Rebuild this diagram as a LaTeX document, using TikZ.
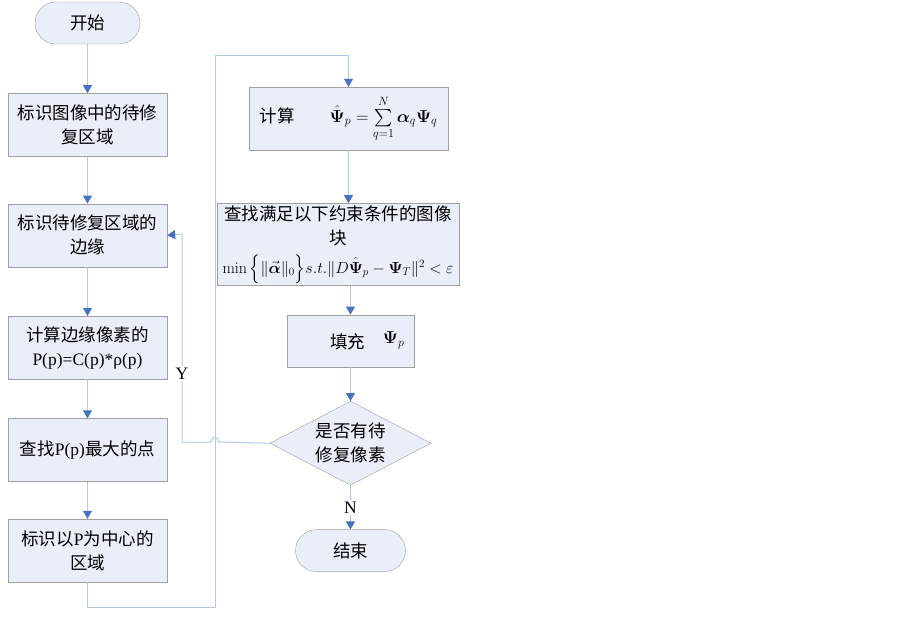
\documentclass[tikz,border=0pt]{standalone}
\usepackage{amsmath}
\usepackage[no-math]{fontspec}
\setmainfont{Liberation Serif}
\newfontfamily\cjk{Noto Sans CJK SC}
\usetikzlibrary{arrows.meta,positioning,shapes.geometric}
\definecolor{boxfill}{RGB}{233,238,248}
\definecolor{boxline}{RGB}{160,160,160}
\definecolor{linkline}{RGB}{180,199,231}
\definecolor{tipblue}{RGB}{68,114,196}
\tikzset{
    %Define standard arrow tip
    >={Triangle[width=9pt,length=8pt,color=tipblue]},
    %Define style for process boxes
    proc/.style={
           rectangle,
           draw=boxline,
           fill=boxfill,
           minimum width=159pt,
           minimum height=63pt,
           inner sep=0pt,
           align=center},
    %Define style for start and end
    term/.style={
           rectangle,
           rounded corners=21pt,
           draw=boxline,
           fill=boxfill,
           minimum width=105pt,
           minimum height=42pt,
           inner sep=0pt},
    %Define style for the question
    query/.style={
           diamond,
           aspect=1.92,
           draw=boxline,
           fill=boxfill,
           minimum width=161pt,
           minimum height=84pt,
           inner sep=0pt,
           align=center},
    % Define arrow style
    flow/.style={
           ->,
           draw=linkline,
           line width=1pt}
}
\begin{document}
\begin{tikzpicture}[x=1pt,y=-1pt,font=\fontsize{17.5}{24}\selectfont]
  \useasboundingbox (0,0) rectangle (903,619);
  % left column
  \node[term] (start) at (87.5,23) {\cjk 开始};
  \node[proc,below=49pt of start] (mark) {{\cjk 标识图像中的待修}\\{\cjk 复区域}};
  \node[proc,below=47pt of mark] (edge) {{\cjk 标识待修复区域的}\\{\cjk 边缘}};
  \node[proc,below=49pt of edge] (prio) {{\cjk 计算边缘像素的}\\P(p)=C(p)*ρ(p)};
  \node[proc,below=39pt of prio] (maxp) {{\cjk 查找}P(p){\cjk 最大的点}};
  \node[proc,below=37pt of maxp] (patch) {{\cjk 标识以}P{\cjk 为中心的}\\{\cjk 区域}};
  % right column
  \node[proc,minimum width=199pt] (sum) at (348.5,118.5)
    {{\cjk 计算}\hspace{2em}$\hat{\mathbf{\Psi}}_p=\sum\limits_{q=1}^{N}\boldsymbol{\alpha}_q\mathbf{\Psi}_q$};
  \node[proc,minimum width=242pt,minimum height=82pt,below=53pt of sum,xshift=-10.5pt] (search)
    {{\cjk 查找满足以下约束条件的图像}\\{\cjk 块}\\[5pt]
     \scalebox{0.93}{$\min\Big\{\|\vec{\boldsymbol{\alpha}}\|_0\Big\}s.t.\|D\hat{\mathbf{\Psi}}_p-\mathbf{\Psi}_T\|^2<\varepsilon$}};
  \node[proc,minimum width=127pt,minimum height=52pt,below=29pt of search,xshift=12.5pt] (fill)
    {\hspace*{34pt}{\cjk 填充}\quad\raisebox{5pt}{$\mathbf{\Psi}_p$}};
  \node[query,below=34pt of fill] (left) {{\cjk 是否有待}\\{\cjk 修复像素}};
  \node[term,minimum width=110pt,below=44pt of left] (stop) {\cjk 结束};
  % turning points
  \coordinate (downleft) at (215,607);
  \coordinate (upleft) at (215,55);
  % arrows
  \draw[flow] (start) -- (mark);
  \draw[flow] (mark) -- (edge);
  \draw[flow] (edge) -- (prio);
  \draw[flow] (prio) -- (maxp);
  \draw[flow] (maxp) -- (patch);
  \draw[flow] (patch.south) |- (downleft) -- (upleft) -| (sum.north);
  \draw[flow] (sum.south) -- (sum.south |- search.north);
  \draw[flow] (fill.north |- search.south) -- (fill.north);
  \draw[flow] (fill) -- (left);
  \draw[flow] (left) -- node[fill=white,inner sep=2pt] {N} (stop);
  \draw[flow] (left.west) -- (219,442) .. controls (219,436) and (211,436) .. (211,442)
    -- (182,442) -- node[pos=0.33,fill=white,inner sep=2pt] {Y} (182,234) -- (edge.east);
\end{tikzpicture}
\end{document}
